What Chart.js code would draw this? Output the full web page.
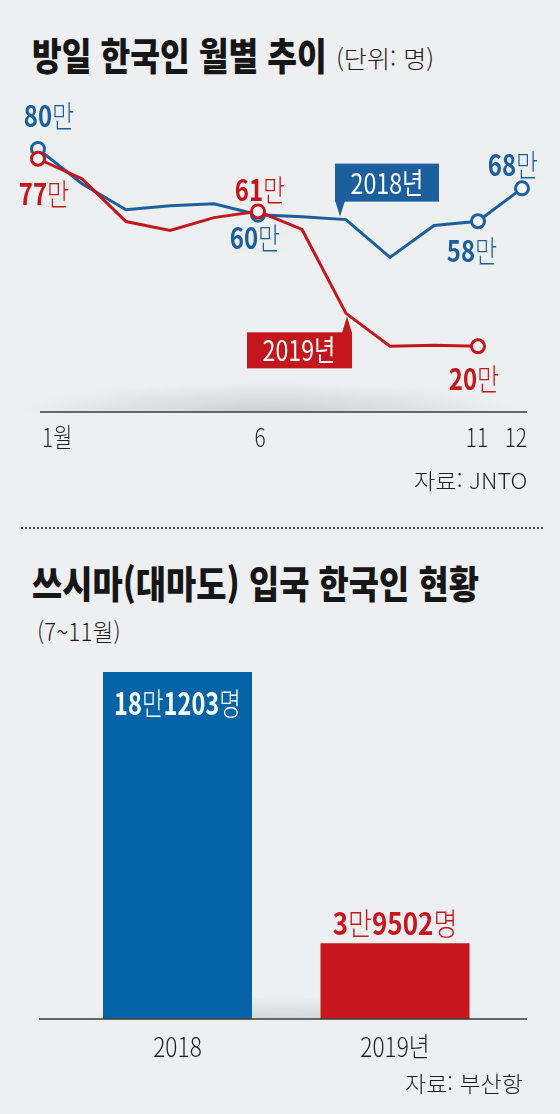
<!DOCTYPE html>
<html lang="ko">
<head>
<meta charset="utf-8">
<script src="https://cdn.jsdelivr.net/npm/chart.js@4.4.1/dist/chart.umd.min.js"></script>
<style>
  html, body { margin: 0; padding: 0; }
  body { width: 560px; height: 1114px; background: #eeeff1; position: relative; overflow: hidden;
         font-family: "Noto Sans CJK KR", "Noto Sans", sans-serif; color: #1e1e1e; }
  .t { position: absolute; white-space: nowrap; line-height: 1; transform-origin: 0 0; }
  .r { transform-origin: 100% 0; }
  .title { font-size: 38px; font-weight: 900; left: 32px; color: #161616; }
  .light { font-weight: 300; }
  .dots { position: absolute; left: 21px; top: 527px; width: 522px; border-top: 2px dotted #444; }
  canvas { position: absolute; left: 0; }
</style>
</head>
<body>
<div class="t title" id="title1" data-w="295" style="top:35px">방일 한국인 월별 추이</div>
<div class="t light" id="unit" data-w="98" style="left:336px;top:46px;font-size:24px">(단위: 명)</div>
<canvas id="line" width="560" height="500" style="top:0"></canvas>
<div class="t r light" data-w="113" style="right:33px;top:468px;font-size:22px">자료: JNTO</div>

<div class="dots"></div>

<div class="t title" data-w="447" style="top:563px">쓰시마(대마도) 입국 한국인 현황</div>
<div class="t light" data-w="84" style="left:37px;top:619px;font-size:24px">(7~11월)</div>
<canvas id="bar" width="560" height="514" style="top:600px"></canvas>
<div class="t r light" data-w="118" style="right:37px;top:1071px;font-size:22px">자료: 부산항</div>

<script>
// 방일 한국인 월별 추이 (만 명).
const MONTHS = ["1월", "2월", "3월", "4월", "5월", "6월", "7월", "8월", "9월", "10월", "11월", "12월"];
const TICK_TEXT = ["1월", "", "", "", "", "6", "", "", "", "", "11", "12"];
const V2018 = [80, 69.4, 61.5, 62.7, 63.3, 60, 59.4, 58.5, 47, 56.7, 58, 68];
const V2019 = [77, 70.9, 57.9, 55.2, 59.1, 61, 55.5, 30, 20, 20.3, 20, null];
const MARKED_2018 = [0, 5, 10, 11];
const MARKED_2019 = [0, 5, 10];

// 쓰시마 입국 한국인 (7~11월, 명)
const BAR_YEARS = ["2018", "2019년"];
const BAR_VALUES = [181203, 39502];

const BLUE = "#1b5f9d", RED = "#c3161d", BAR_BLUE = "#0564a6", BAR_RED = "#c8161e";
const FONT = '"Noto Sans CJK KR", "Noto Sans", sans-serif';

// squeeze the HTML headings to the condensed widths of the print face
document.querySelectorAll(".t").forEach((el) => {
  el.style.transform = `scaleX(${el.dataset.w / el.offsetWidth})`;
});

// digits in the heavy weight, hangul in the light one, squeezed horizontally
function drawRich(ctx, text, x, y, o) {
  const runs = text.match(/\d+|\D+/g);
  const fontFor = (r) => `${/\d/.test(r) ? o.bold : o.light} ${o.size}px ${FONT}`;
  ctx.save();
  ctx.textBaseline = "middle";
  ctx.textAlign = "left";
  ctx.fillStyle = o.color;
  let w = 0;
  runs.forEach((r) => { ctx.font = fontFor(r); w += ctx.measureText(r).width; });
  const sx = o.sx || 1;
  const left = o.align === "left" ? x : o.align === "right" ? x - w * sx : x - (w * sx) / 2;
  ctx.translate(left, y);
  ctx.scale(sx, 1);
  let cx = 0;
  runs.forEach((r) => { ctx.font = fontFor(r); ctx.fillText(r, cx, 0); cx += ctx.measureText(r).width; });
  ctx.restore();
}

function softShadow(ctx, cx, cy, rx, ry, alpha) {
  ctx.save();
  ctx.beginPath();
  ctx.rect(cx - rx, cy - ry, rx * 2, ry);
  ctx.clip();
  ctx.translate(cx, cy);
  ctx.scale(1, ry / rx);
  const g = ctx.createRadialGradient(0, 0, 0, 0, 0, rx);
  g.addColorStop(0, `rgba(0,0,0,${alpha})`);
  g.addColorStop(1, "rgba(0,0,0,0)");
  ctx.fillStyle = g;
  ctx.fillRect(-rx, -rx, rx * 2, rx);
  ctx.restore();
}

// ---- line chart ----
const LABEL_OFFSETS = {
  0: { 0: [11, -33], 5: [-3, 23], 10: [-6, 29], 11: [-9, -24] },
  1: { 0: [6, 35], 5: [2, -22], 10: [-4, 32] },
};
const TICK_ALIGN = { 0: ["left", 4], 5: ["center", 2], 10: ["center", -1], 11: ["right", 5] };

const linePlugin = {
  id: "lineDecor",
  beforeDatasetsDraw(chart) {
    const { ctx, chartArea, scales } = chart;
    const y0 = scales.y.getPixelForValue(0);
    softShadow(ctx, (chartArea.left + chartArea.right) / 2 - 10, y0, 250, 30, 0.13);
    ctx.save();
    ctx.strokeStyle = "#3a3a3a";
    ctx.lineWidth = 1.6;
    ctx.beginPath();
    ctx.moveTo(chartArea.left + 2, y0);
    ctx.lineTo(chartArea.right + 5, y0);
    ctx.stroke();
    ctx.restore();
    TICK_TEXT.forEach((t, i) => {
      if (!t) return;
      const [align, dx] = TICK_ALIGN[i];
      drawRich(ctx, t, scales.x.getPixelForValue(i) + dx, y0 + 25,
        { size: 26, bold: 300, light: 300, color: "#1e1e1e", sx: 0.8, align });
    });
  },
  afterDatasetsDraw(chart) {
    const { ctx } = chart;
    chart.data.datasets.forEach((ds, di) => {
      const meta = chart.getDatasetMeta(di);
      Object.entries(LABEL_OFFSETS[di]).forEach(([i, [dx, dy]]) => {
        const p = meta.data[i];
        drawRich(ctx, `${Math.round(ds.data[i])}만`, p.x + dx, p.y + dy,
          { size: 30, bold: 700, light: 300, color: ds.borderColor, sx: 0.8 });
      });
    });
    // series tags, hung off the August points
    const b = chart.getDatasetMeta(0).data[7], r = chart.getDatasetMeta(1).data[7];
    ctx.save();
    ctx.fillStyle = BLUE;
    ctx.fillRect(b.x - 11, b.y - 56, 104, 38);
    ctx.beginPath();
    ctx.moveTo(b.x - 11, b.y - 19);
    ctx.lineTo(b.x - 1, b.y - 19);
    ctx.lineTo(b.x - 6, b.y - 3);
    ctx.fill();
    ctx.fillStyle = RED;
    ctx.fillRect(r.x - 99, r.y + 19, 105, 36);
    ctx.beginPath();
    ctx.moveTo(r.x - 4, r.y + 20);
    ctx.lineTo(r.x + 6, r.y + 20);
    ctx.lineTo(r.x + 1, r.y + 3);
    ctx.fill();
    ctx.restore();
    drawRich(ctx, "2018년", b.x + 41, b.y - 37, { size: 29, bold: 400, light: 400, color: "#fff", sx: 0.8 });
    drawRich(ctx, "2019년", r.x - 47, r.y + 37, { size: 29, bold: 400, light: 400, color: "#fff", sx: 0.8 });
  },
};

const marker = (marked) => (c) => (marked.includes(c.dataIndex) ? 6.5 : 0);
new Chart(document.getElementById("line"), {
  type: "line",
  data: {
    labels: MONTHS,
    datasets: [
      { label: "2018년", data: V2018, borderColor: BLUE, borderWidth: 3, tension: 0, clip: false,
        pointRadius: marker(MARKED_2018), pointHoverRadius: marker(MARKED_2018),
        pointBackgroundColor: "#f6f6f6", pointBorderColor: BLUE, pointBorderWidth: 3, order: 2 },
      { label: "2019년", data: V2019, borderColor: RED, borderWidth: 3, tension: 0, clip: false,
        pointRadius: marker(MARKED_2019), pointHoverRadius: marker(MARKED_2019),
        pointBackgroundColor: "#f6f6f6", pointBorderColor: RED, pointBorderWidth: 3, order: 1 },
    ],
  },
  options: {
    responsive: false, animation: false, events: [],
    layout: { padding: { left: 38, right: 38, top: 116, bottom: 88 } },
    scales: {
      x: { display: false, offset: false },
      y: { display: false, min: 0, max: 90 },
    },
    plugins: { legend: { display: false }, tooltip: { enabled: false } },
  },
  plugins: [linePlugin],
});

// ---- bar chart ----
const barPlugin = {
  id: "barDecor",
  beforeDatasetsDraw(chart) {
    const { ctx, chartArea } = chart;
    softShadow(ctx, 285, chartArea.bottom, 200, 22, 0.1);
  },
  afterDatasetsDraw(chart) {
    const { ctx, chartArea, scales } = chart;
    const meta = chart.getDatasetMeta(0);
    ctx.save();
    ctx.strokeStyle = "#3a3a3a";
    ctx.lineWidth = 1.6;
    ctx.beginPath();
    ctx.moveTo(39, chartArea.bottom);
    ctx.lineTo(527, chartArea.bottom);
    ctx.stroke();
    ctx.restore();
    BAR_VALUES.forEach((v, i) => {
      const bar = meta.data[i];
      const text = `${Math.floor(v / 10000)}만${v % 10000}명`;
      const inside = bar.base - bar.y > 100;
      drawRich(ctx, text, bar.x, inside ? bar.y + 31 : bar.y - 20,
        { size: 31, bold: 700, light: 300, color: inside ? "#fff" : BAR_RED, sx: inside ? 0.76 : 0.84 });
      drawRich(ctx, BAR_YEARS[i], scales.x.getPixelForValue(i), chartArea.bottom + 28,
        { size: 27, bold: 300, light: 300, color: "#1e1e1e", sx: 0.84 });
    });
  },
};

new Chart(document.getElementById("bar"), {
  type: "bar",
  data: {
    labels: BAR_YEARS,
    datasets: [{ data: BAR_VALUES, backgroundColor: [BAR_BLUE, BAR_RED], borderWidth: 0,
                 categoryPercentage: 1, barPercentage: 0.685 }],
  },
  options: {
    responsive: false, animation: false, events: [],
    layout: { padding: { left: 68.75, right: 56.25, top: 36, bottom: 95 } },
    scales: {
      x: { display: false },
      y: { display: false, min: 0, max: 200000 },
    },
    plugins: { legend: { display: false }, tooltip: { enabled: false } },
  },
  plugins: [barPlugin],
});
</script>
</body>
</html>
